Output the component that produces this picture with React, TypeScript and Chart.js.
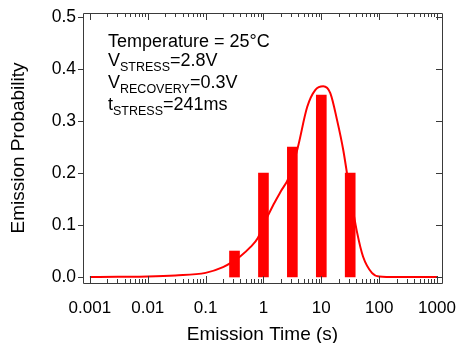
import React, { useEffect, useRef } from "react";
import { Chart, registerables } from "chart.js";

Chart.register(...registerables);

// ---- data ----
const barTimes = [0.316, 1, 3.16, 10, 31.6];
const barProb = [0.05, 0.2, 0.25, 0.35, 0.2];

const fitTimes = [0.001, 0.003, 0.01, 0.03, 0.1, 0.2, 0.3, 0.4, 0.6, 0.8, 1, 1.5, 2, 2.7, 3.9, 5.7, 7.9, 10.8, 14.3, 18.9, 24, 31.6, 41.7, 52.8, 75, 100, 200, 1000];
const fitProb = [0.0, 0.0005, 0.001, 0.003, 0.008, 0.019, 0.03, 0.04, 0.058, 0.075, 0.1, 0.14, 0.165, 0.19, 0.248, 0.327, 0.36, 0.367, 0.354, 0.3, 0.244, 0.16, 0.085, 0.039, 0.008, 0.001, 0.0, 0.0];

const xTickValues = [0.001, 0.01, 0.1, 1, 10, 100, 1000];
const xTickLabels = ["0.001", "0.01", "0.1", "1", "10", "100", "1000"];
const yTickValues = [0, 0.1, 0.2, 0.3, 0.4, 0.5];
const yTickLabels = ["0.0", "0.1", "0.2", "0.3", "0.4", "0.5"];

const xTitle = "Emission Time (s)";
const yTitle = "Emission Probability";

// annotation lines: [main, subscript, rest]
const annotationLines: [string, string, string][] = [
  ["Temperature = 25°C", "", ""],
  ["V", "STRESS", "=2.8V"],
  ["V", "RECOVERY", "=0.3V"],
  ["t", "STRESS", "=241ms"],
];

const FONT = "'Liberation Sans', Arial, Helvetica, sans-serif";
const RED = "#ff0000";
const AXIS = "#3a3a3a";

const framePlugin = {
  id: "frameTicks",
  afterDatasetsDraw(chart: any) {
    const { ctx, chartArea } = chart;
    const xs = chart.scales.x;
    const ys = chart.scales.y;
    const { left, right, top, bottom } = chartArea;
    ctx.save();
    ctx.strokeStyle = AXIS;
    ctx.lineWidth = 1;
    ctx.beginPath();
    ctx.rect(Math.round(left) + 0.5, Math.round(top) + 0.5, Math.round(right - left), Math.round(bottom - top));
    ctx.stroke();
    // x ticks (log decades with minors), inward on bottom and top
    ctx.beginPath();
    for (let d = -3; d <= 3; d++) {
      for (let m = 1; m <= 9; m++) {
        const v = m * Math.pow(10, d);
        if (v < xs.min || v > xs.max) continue;
        if (d === 3 && m > 1) continue;
        const px = Math.round(xs.getPixelForValue(v)) + 0.5;
        const len = m === 1 ? 7 : 4;
        ctx.moveTo(px, bottom);
        ctx.lineTo(px, bottom - len);
        ctx.moveTo(px, top);
        ctx.lineTo(px, top + len);
      }
    }
    // y ticks: outward on left, inward on right
    for (const v of yTickValues) {
      const py = Math.round(ys.getPixelForValue(v)) + 0.5;
      ctx.moveTo(left, py);
      ctx.lineTo(left - 5, py);
      ctx.moveTo(right, py);
      ctx.lineTo(right - 6, py);
    }
    ctx.stroke();

    // annotation text
    ctx.fillStyle = "#000";
    ctx.textBaseline = "alphabetic";
    ctx.textAlign = "left";
    const x0 = left + 25;
    const baselines = [34, 53, 75, 97];
    annotationLines.forEach((ln, i) => {
      const y = top + baselines[i];
      let x = x0;
      ctx.font = `18px ${FONT}`;
      ctx.fillText(ln[0], x, y);
      x += ctx.measureText(ln[0]).width;
      if (ln[1]) {
        ctx.font = `12.5px ${FONT}`;
        ctx.fillText(ln[1], x, y + 4.5);
        x += ctx.measureText(ln[1]).width;
      }
      if (ln[2]) {
        ctx.font = `18px ${FONT}`;
        ctx.fillText(ln[2], x, y);
      }
    });
    ctx.restore();
  },
};

export default function App() {
  const canvasRef = useRef<HTMLCanvasElement | null>(null);

  useEffect(() => {
    if (!canvasRef.current) return;
    const chart = new Chart(canvasRef.current, {
      type: "bar",
      data: {
        datasets: [
          {
            type: "line",
            label: "fit",
            data: fitTimes.map((t, i) => ({ x: t, y: fitProb[i] })),
            borderColor: RED,
            borderWidth: 2,
            pointRadius: 0,
            cubicInterpolationMode: "monotone",
            fill: false,
            order: 0,
          } as any,
          {
            type: "bar",
            label: "histogram",
            data: barTimes.map((t, i) => ({ x: t, y: barProb[i] })),
            backgroundColor: RED,
            borderWidth: 0,
            barThickness: 10,
            order: 1,
          } as any,
        ],
      },
      options: {
        animation: false,
        responsive: true,
        maintainAspectRatio: false,
        layout: { padding: { top: 13, right: 15, left: 0, bottom: 0 } },
        plugins: {
          legend: { display: false },
          tooltip: { enabled: false },
        },
        scales: {
          x: {
            type: "logarithmic",
            min: 0.00076,
            max: 1220,
            grid: { display: false, drawTicks: false },
            border: { display: false },
            afterBuildTicks: (scale: any) => {
              scale.ticks = xTickValues.map((v) => ({ value: v }));
            },
            afterFit: (scale: any) => {
              scale.height = 60;
              scale.paddingLeft = 0;
              scale.paddingRight = 0;
            },
            ticks: {
              autoSkip: false,
              maxRotation: 0,
              padding: 15,
              color: "#000",
              font: { family: FONT, size: 17 },
              callback: (v: any) => {
                const idx = xTickValues.findIndex((t) => Math.abs(t - Number(v)) < t * 1e-6);
                return idx >= 0 ? xTickLabels[idx] : "";
              },
            },
            title: {
              display: true,
              text: xTitle,
              color: "#000",
              font: { family: FONT, size: 19 },
              padding: { top: 0, bottom: -3 },
            },
          },
          y: {
            type: "linear",
            min: -0.0115,
            max: 0.508,
            grid: { display: false, drawTicks: false },
            border: { display: false },
            afterBuildTicks: (scale: any) => {
              scale.ticks = yTickValues.map((v) => ({ value: v }));
            },
            afterFit: (scale: any) => {
              scale.width = 83;
              scale.paddingTop = 0;
              scale.paddingBottom = 0;
            },
            ticks: {
              autoSkip: false,
              padding: 7,
              color: "#000",
              font: { family: FONT, size: 17.5 },
              callback: (v: any) => {
                const idx = yTickValues.findIndex((t) => Math.abs(t - Number(v)) < 1e-9);
                return idx >= 0 ? yTickLabels[idx] : "";
              },
            },
            title: {
              display: true,
              text: yTitle,
              color: "#000",
              font: { family: FONT, size: 19 },
              padding: { top: 7, bottom: 0 },
            },
          },
        },
      },
      plugins: [framePlugin],
    });
    return () => chart.destroy();
  }, []);

  return (
    <div style={{ position: "fixed", left: 0, top: 0, width: 457, height: 343, background: "#fff" }}>
      <canvas ref={canvasRef} />
    </div>
  );
}
